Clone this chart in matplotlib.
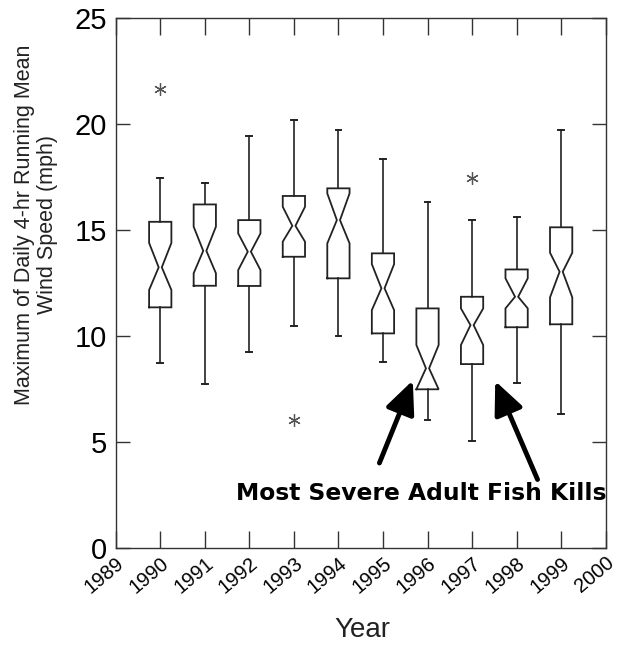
import matplotlib
matplotlib.use("Agg")
import matplotlib.pyplot as plt
import numpy as np

# ---- data ----
years   = [1990, 1991, 1992, 1993, 1994, 1995, 1996, 1997, 1998, 1999]
whislo  = [8.73, 7.73, 9.22, 10.48, 10.00, 8.75, 6.03, 5.05, 7.79, 6.30]
q1      = [11.35, 12.37, 12.36, 13.74, 12.72, 10.12, 7.48, 8.67, 10.41, 10.55]
cilo    = [12.17, 12.96, 13.11, 14.45, 14.37, 11.22, 7.48, 9.57, 11.30, 11.82]
med     = [13.24, 14.02, 13.98, 15.20, 15.47, 12.25, 8.47, 10.51, 11.85, 13.03]
cihi    = [14.39, 15.16, 14.84, 16.10, 16.73, 13.39, 9.57, 11.30, 12.72, 13.93]
q3      = [15.39, 16.21, 15.47, 16.61, 16.97, 13.90, 11.30, 11.85, 13.14, 15.13]
whishi  = [17.44, 17.21, 19.44, 20.20, 19.71, 18.34, 16.34, 15.47, 15.63, 19.72]
fliers  = [[21.64], [], [], [6.03], [], [], [], [17.44], [], []]
xticks  = list(range(1989, 2001))
yticks  = [0, 5, 10, 15, 20, 25]
arrow_tails = [(1994.92, 4.0), (1998.47, 3.22)]
arrow_tips  = [(1995.67, 7.9), (1997.52, 7.87)]
annot_text = "Most Severe Adult Fish Kills"
annot_pos = (1995.87, 2.55)

LC = "#222222"
plt.rcParams['font.family'] = ['Liberation Sans', 'DejaVu Sans']

W, H = 619, 648
fig = plt.figure(figsize=(W / 100, H / 100), dpi=100)
l, r, b, t = 115.7, 605.7, 547.7, 18.3
ax = fig.add_axes([l / W, 1 - b / H, (r - l) / W, (b - t) / H])

stats = []
for i in range(len(years)):
    stats.append(dict(med=med[i], q1=q1[i], q3=q3[i], whislo=whislo[i],
                      whishi=whishi[i], fliers=fliers[i], cilo=cilo[i], cihi=cihi[i]))

ax.bxp(stats, positions=years, widths=0.5, showbox=False, shownotches=False,
       capwidths=0.13, showfliers=True,
       whiskerprops=dict(color=LC, lw=1.2),
       capprops=dict(color=LC, lw=1.4),
       medianprops=dict(linestyle='none'),
       flierprops=dict(marker=(6, 2, 0), markersize=9, markeredgecolor="#555555",
                       markerfacecolor="none", markeredgewidth=0.9, linestyle='none'))

hw, nw = 0.25, 0.035
for i, x in enumerate(years):
    xs = [x - hw, x - hw, x - nw, x - hw, x - hw, x + hw, x + hw, x + nw, x + hw, x + hw, x - hw]
    ys = [q1[i], cilo[i], med[i], cihi[i], q3[i], q3[i], cihi[i], med[i], cilo[i], q1[i], q1[i]]
    ax.plot(xs, ys, color=LC, lw=1.3, solid_joinstyle='miter', zorder=3)

ax.set_xlim(1989, 2000)
ax.set_ylim(0, 25)
ax.set_xticks(xticks)
ax.set_yticks(yticks)
ax.set_xticklabels([str(v) for v in xticks], rotation=40, ha='right',
                   rotation_mode='anchor', fontsize=14.5)
ax.set_yticklabels([str(v) for v in yticks], fontsize=21)
ax.tick_params(axis='x', direction='in', length=12, width=1, color="#333333",
               top=True, bottom=True, pad=4)
ax.tick_params(axis='y', direction='in', length=10, width=1, color="#333333",
               left=True, right=True, pad=6.5)
for s in ax.spines.values():
    s.set_color("#333333")
    s.set_linewidth(1.0)

for (tx, ty), (hx, hy) in zip(arrow_tails, arrow_tips):
    ax.annotate("", xy=(hx, hy), xytext=(tx, ty),
                arrowprops=dict(arrowstyle='-|>,head_length=1.0,head_width=0.45',
                                lw=3.5, color='black', shrinkA=0, shrinkB=0,
                                mutation_scale=20))

ax.text(annot_pos[0], annot_pos[1], annot_text, ha='center', va='center',
        fontsize=16.8, fontweight='bold', color='black', family='DejaVu Sans')

fig.text(36 / W, 1 - 225 / H, "Maximum of Daily 4-hr Running Mean\nWind Speed (mph)",
         rotation=90, ha='center', va='center', multialignment='center',
         fontsize=15.5, color="#222222", linespacing=1.15)
fig.text(362 / W, 1 - 630 / H, "Year", ha='center', va='center', fontsize=20, color="#222222")

fig.savefig("out.png", dpi=100)
